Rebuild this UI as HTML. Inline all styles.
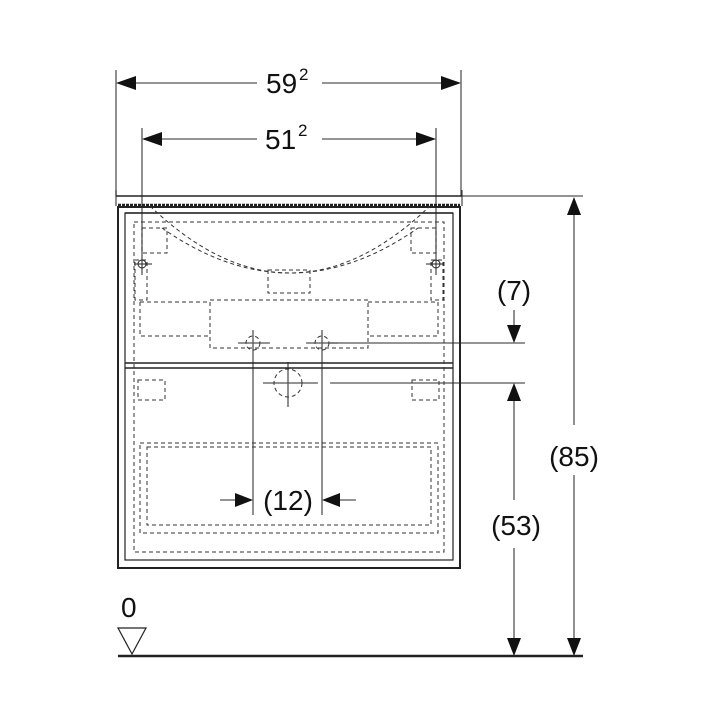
<!DOCTYPE html>
<html><head><meta charset="utf-8"><style>
html,body{margin:0;padding:0;background:#fff;}
svg{display:block}
text{font-family:"Liberation Sans",sans-serif;fill:#111}
</style></head><body>
<svg width="718" height="718" viewBox="0 0 718 718" xmlns="http://www.w3.org/2000/svg">
<g stroke="#555" stroke-width="1.3" fill="none">
<line x1="116" y1="70" x2="116" y2="196"/>
<line x1="461" y1="70" x2="461" y2="196"/>
<line x1="142" y1="128" x2="142" y2="275"/>
<line x1="436" y1="128" x2="436" y2="275"/>
<line x1="130" y1="83" x2="257" y2="83"/>
<line x1="322" y1="83" x2="448" y2="83"/>
<line x1="155" y1="139" x2="257" y2="139"/>
<line x1="322" y1="139" x2="424" y2="139"/>
<line x1="462" y1="196" x2="583" y2="196"/>
<line x1="574" y1="210" x2="574" y2="425"/>
<line x1="574" y1="475" x2="574" y2="645"/>
<line x1="514" y1="395" x2="514" y2="500"/>
<line x1="514" y1="548" x2="514" y2="645"/>
<line x1="514" y1="310" x2="514" y2="325"/>
<line x1="330" y1="343" x2="525" y2="343"/>
<line x1="330" y1="383" x2="525" y2="383"/>
<line x1="253" y1="330" x2="253" y2="515"/>
<line x1="322" y1="330" x2="322" y2="515"/>
<line x1="220" y1="500" x2="240" y2="500"/>
<line x1="335" y1="500" x2="356" y2="500"/>
<line x1="238" y1="343" x2="270" y2="343"/>
<line x1="306" y1="343" x2="338" y2="343"/>
<line x1="288" y1="362" x2="288" y2="407"/>
<line x1="263" y1="383" x2="318" y2="383"/>
</g>
<g fill="#111">
<polygon points="116,83 136,76 136,90"/>
<polygon points="461,83 441,76 441,90"/>
<polygon points="142,139 162,132 162,146"/>
<polygon points="436,139 416,132 416,146"/>
<polygon points="574,197 567,215 581,215"/>
<polygon points="574,656 567,638 581,638"/>
<polygon points="514,383 507,401 521,401"/>
<polygon points="514,656 507,638 521,638"/>
<polygon points="514,343 507,325 521,325"/>
<polygon points="253,500 235,493 235,507"/>
<polygon points="322,500 340,493 340,507"/>
</g>
<g stroke="#222" fill="none">
<line x1="116" y1="196" x2="462" y2="196" stroke-width="1.5"/>
<line x1="116" y1="190" x2="116" y2="206" stroke-width="1"/>
<line x1="462" y1="190" x2="462" y2="206" stroke-width="1"/>
<line x1="118" y1="205" x2="460" y2="205" stroke-width="2.5" stroke-dasharray="3,1"/>
<line x1="125" y1="213" x2="453" y2="213" stroke-width="1.5"/>
<rect x="118" y="207" width="342" height="361" stroke-width="2"/>
<rect x="125" y="213" width="328" height="347" stroke-width="1.2"/>
<line x1="125" y1="363" x2="453" y2="363" stroke-width="1.5"/>
<line x1="125" y1="368" x2="453" y2="368" stroke-width="1.5"/>
<line x1="118" y1="656" x2="583" y2="656" stroke-width="2.5"/>
</g>
<g stroke="#333" stroke-width="1" fill="none" stroke-dasharray="4,3">
<rect x="134" y="222" width="310" height="330"/>
<path d="M150,206 Q290,340 430,206"/>
<path d="M162,228 Q290,318 418,228"/>
<rect x="268" y="270" width="42" height="23"/>
<rect x="142" y="228" width="25" height="25"/>
<rect x="411" y="228" width="25" height="25"/>
<rect x="135" y="260" width="12" height="40"/>
<rect x="431" y="260" width="12" height="40"/>
<path d="M140,302 H210 M210,300 H368 V348 H210 Z M140,302 V336 H210 M368,302 H438 V336 H368"/>
<rect x="138" y="380" width="27" height="20"/>
<rect x="412" y="380" width="27" height="20"/>
<rect x="140" y="443" width="298" height="90"/>
<rect x="147" y="447" width="284" height="78"/>
<circle cx="288" cy="383" r="14"/>
<circle cx="253" cy="343" r="7"/>
<circle cx="322" cy="343" r="7"/>
</g>
<g stroke="#222" stroke-width="1" fill="none">
<circle cx="142" cy="264" r="4"/>
<circle cx="436" cy="264" r="4"/>
<line x1="134" y1="264" x2="152" y2="264"/>
<line x1="426" y1="264" x2="444" y2="264"/>
</g>
<text x="266" y="93" font-size="28">59</text><text x="299" y="80" font-size="17">2</text>
<text x="265" y="149" font-size="28">51</text><text x="298" y="136" font-size="17">2</text>
<text x="514" y="300" font-size="28" text-anchor="middle">(7)</text>
<text x="574" y="466" font-size="28" text-anchor="middle">(85)</text>
<text x="516" y="535" font-size="28" text-anchor="middle">(53)</text>
<text x="288" y="510" font-size="28" text-anchor="middle">(12)</text>
<text x="121" y="617" font-size="28">0</text>
<polygon points="118,628 146,628 132,654" fill="none" stroke="#222" stroke-width="1.2"/>
</svg>
</body></html>
